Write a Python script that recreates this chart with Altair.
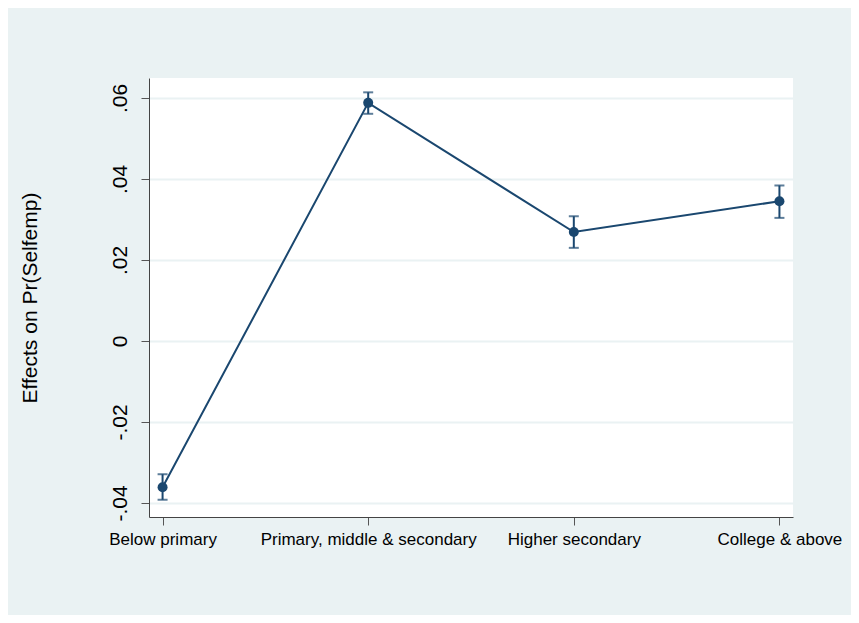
import altair as alt
import pandas as pd

# Education categories and estimated effects with confidence bounds
categories = ["Below primary", "Primary, middle & secondary", "Higher secondary", "College & above"]
effects = [-0.0361, 0.0588, 0.0269, 0.0345]
ci_low = [-0.0392, 0.0561, 0.0230, 0.0304]
ci_high = [-0.0329, 0.0614, 0.0308, 0.0384]
y_ticks = [-0.04, -0.02, 0, 0.02, 0.04, 0.06]

df = pd.DataFrame({"cat": categories, "est": effects, "lo": ci_low, "hi": ci_high})

navy = "#1A476F"
bg = "#EAF2F3"

x = alt.X("cat:N", sort=categories, title=None,
          scale=alt.Scale(type="point", padding=0.066),
          axis=alt.Axis(labelAngle=0, labelFontSize=17, labelColor="#000",
                        labelPadding=6, labelLimit=0, tickSize=8, tickColor="#555",
                        domainColor="#444", grid=False))
y_scale = alt.Scale(domain=[-0.04346, 0.06494], nice=False, zero=False)

base = alt.Chart(df)

line = base.mark_line(color=navy, strokeWidth=2).encode(
    x=x,
    y=alt.Y("est:Q", scale=y_scale, title="Effects on Pr(Selfemp)",
            axis=alt.Axis(values=y_ticks, labelAngle=270, labelAlign="center",
                          labelBaseline="middle", labelFontSize=21, labelColor="#000",
                          labelPadding=21, tickSize=8, tickColor="#555",
                          domainColor="#444", gridColor=bg, gridWidth=2,
                          labelExpr="datum.value == 0 ? '0' : replace(replace(format(datum.value, '.2f'), '\u2212', '-'), '0.', '.')",
                          titleFontSize=21, titleFontWeight="normal", titleColor="#000",
                          titleX=-119, titleBaseline="middle"))
)

bars = base.mark_rule(color=navy, strokeWidth=2).encode(
    x=x, y=alt.Y("lo:Q", scale=y_scale), y2="hi:Q"
)
cap_lo = base.mark_tick(color=navy, thickness=2, size=10).encode(x=x, y=alt.Y("lo:Q", scale=y_scale))
cap_hi = base.mark_tick(color=navy, thickness=2, size=10).encode(x=x, y=alt.Y("hi:Q", scale=y_scale))

points = base.mark_circle(color=navy, size=100, opacity=1).encode(
    x=x, y=alt.Y("est:Q", scale=y_scale)
)

chart = alt.layer(line, bars, cap_lo, cap_hi, points).properties(
    width=644,
    height=439,
    padding={"left": 141, "top": 70, "right": 58, "bottom": 98},
    autosize=alt.AutoSizeParams(type="none"),
    background=bg,
).configure_view(
    fill="white", stroke=None
).configure_axis(
    labelFont="Liberation Sans", titleFont="Liberation Sans"
)

chart.save("out.html", embed_options={"renderer": "svg", "actions": False})
